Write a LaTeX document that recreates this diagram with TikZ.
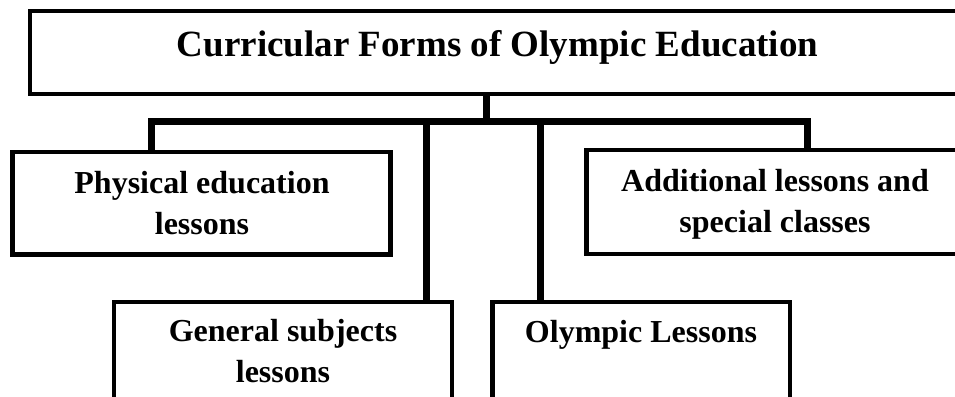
\documentclass[tikz,border=0pt]{standalone}
\usepackage{fontspec}
\setmainfont{Liberation Serif}
\begin{document}
\begin{tikzpicture}[x=1pt,y=1pt,
  frame/.style={draw=black, line width=4.6pt, inner sep=0pt, fill=white},
  conn/.style={draw=black, line width=7pt, line join=miter},
  boxtext/.style={inner sep=0pt, align=center, font=\fontsize{32}{41}\selectfont\bfseries},
  titletext/.style={inner sep=0pt, font=\fontsize{37}{44}\selectfont\bfseries}]
  \clip (0,0) rectangle (955,396);
  \fill[white] (0,0) rectangle (955,396);

  % boxes
  \node[frame, minimum width=933.5pt, minimum height=83pt]  (top) at (496.75,343.5) {};
  \node[frame, minimum width=378pt,   minimum height=102.5pt] (pe) at (201.5,192.75) {};
  \node[frame, minimum width=377pt,   minimum height=104pt] (al) at (775,194) {};
  \node[frame, minimum width=338pt,   minimum height=138pt] (gs) at (283,25) {};
  \node[frame, minimum width=297.5pt, minimum height=138pt] (ol) at (641.25,25) {};

  % labels (base anchor = baseline of the last line)
  \node[titletext, anchor=base] (ttl) at (497.5,339) {Curricular Forms of Olympic Education};
  \node[boxtext, anchor=base] (pet) at (202,161) {Physical education\\lessons};
  \node[boxtext, anchor=base] (alt) at (775,163) {Additional lessons and\\special classes};
  \node[boxtext, anchor=base] (gst) at (283,13) {General subjects\\lessons};
  \node[boxtext, anchor=base] (olt) at (641,53) {Olympic Lessons};

  % junction points on the distribution bar
  \coordinate (j)   at (486,274);
  \coordinate (pej) at (151.5,274);
  \coordinate (gsj) at (426.5,274);
  \coordinate (olj) at (540.5,274);
  \coordinate (alj) at (807.5,274);

  % connectors
  \draw[conn] (j |- top.south) -- (j);
  \draw[conn] (pej |- pe.north) -- (pej) -- (alj) -- (alj |- al.north);
  \draw[conn] (gsj) -- (gsj |- gs.north);
  \draw[conn] (olj) -- (olj |- ol.north);
\end{tikzpicture}
\end{document}
